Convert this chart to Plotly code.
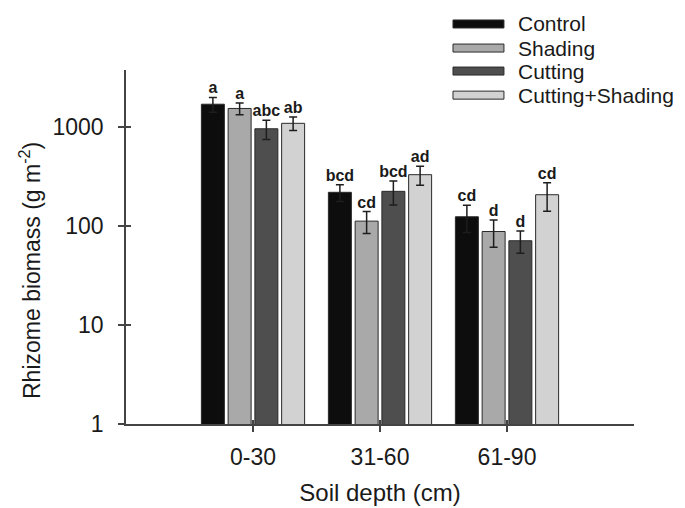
import plotly.graph_objects as go

depths = ["0-30", "31-60", "61-90"]
series = ["Control", "Shading", "Cutting", "Cutting+Shading"]
colors = ["#0d0d0d", "#a9a9a9", "#4e4e4e", "#d2d2d2"]

control = [1700, 219, 124]
shading = [1540, 112, 88]
cutting = [960, 224, 71]
cut_shade = [1090, 330, 207]

control_err = [290, 42, 38]
shading_err = [210, 28, 27]
cutting_err = [210, 61, 18]
cut_shade_err = [170, 72, 66]

control_lbl = ["a", "bcd", "cd"]
shading_lbl = ["a", "cd", "d"]
cutting_lbl = ["abc", "bcd", "d"]
cut_shade_lbl = ["ab", "ad", "cd"]

values = [control, shading, cutting, cut_shade]
errors = [control_err, shading_err, cutting_err, cut_shade_err]
labels = [control_lbl, shading_lbl, cutting_lbl, cut_shade_lbl]

FONT = "Liberation Sans, Arial, sans-serif"
TXT = "#1a1a1a"
slot = 0.2106
bw = 0.181

fig = go.Figure()
for i, name in enumerate(series):
    xs = [g + (i - 1.5) * slot for g in range(len(depths))]
    fig.add_trace(go.Bar(
        x=xs, y=values[i], width=bw, name=name,
        marker=dict(color=colors[i], line=dict(color="#2a2a2a", width=1)),
        error_y=dict(type="data", array=errors[i], visible=True,
                     color="#1e1e1e", thickness=1.5, width=4),
        showlegend=False,
    ))
    fig.add_trace(go.Scatter(
        x=xs, y=[v + e for v, e in zip(values[i], errors[i])],
        mode="text", text=labels[i], textposition="top center",
        textfont=dict(family=FONT, size=16, color=TXT, weight="bold"),
        showlegend=False, hoverinfo="skip",
    ))

# custom legend (wide flat swatches)
sw_x0, sw_x1 = 0.6437, 0.744
row_y = [1.130, 1.062, 0.997, 0.929]
half_h = 0.0113
for i, name in enumerate(series):
    fig.add_shape(type="rect", xref="paper", yref="paper",
                  x0=sw_x0, x1=sw_x1, y0=row_y[i] - half_h, y1=row_y[i] + half_h,
                  fillcolor=colors[i], line=dict(color="#2a2a2a", width=1))
    fig.add_annotation(xref="paper", yref="paper", x=0.768, y=row_y[i],
                       xanchor="left", yanchor="middle", text=name,
                       showarrow=False, font=dict(family=FONT, size=21, color=TXT))

# y-axis title as annotation (centred lower than plot middle, as in the reference)
fig.add_annotation(xref="paper", yref="paper", x=-0.189, y=0.435,
                   xanchor="center", yanchor="middle", textangle=-90,
                   text="Rhizome biomass (g m<sup>-2</sup>)", showarrow=False,
                   font=dict(family=FONT, size=23, color=TXT))

axis_col = "#444444"
fig.update_layout(
    width=685, height=508,
    margin=dict(l=126, r=51, t=70, b=84, autoexpand=False),
    paper_bgcolor="white", plot_bgcolor="white",
    font=dict(family=FONT, color=TXT),
    barmode="overlay",
    xaxis=dict(
        range=[-1, 3], tickvals=list(range(len(depths))), ticktext=depths,
        automargin=False,
        showgrid=False, zeroline=False, showline=True, linecolor=axis_col, linewidth=1.5,
        ticks="outside", ticklen=6, tickwidth=1.5, tickcolor=axis_col,
        ticklabelstandoff=6,
        tickfont=dict(size=23, family=FONT, color=TXT),
        title=dict(text="Soil depth (cm)", font=dict(size=24, family=FONT, color=TXT), standoff=15),
    ),
    yaxis=dict(
        type="log", range=[0, 3.576],
        tickvals=[1, 10, 100, 1000], ticktext=["1", "10", "100", "1000"],
        automargin=False,
        showgrid=False, zeroline=False, showline=True, linecolor=axis_col, linewidth=1.5,
        ticks="outside", ticklen=6, tickwidth=1.5, tickcolor=axis_col,
        ticklabelstandoff=10,
        tickfont=dict(size=23, family=FONT, color=TXT),
    ),
    xaxis2=dict(overlaying="x", anchor="y", range=[-1, 3], tickvals=list(range(len(depths))),
                showticklabels=False, showgrid=False, zeroline=False, showline=False,
                automargin=False,
                ticks="inside", ticklen=4, tickwidth=1.5, tickcolor=axis_col, side="bottom"),
    yaxis2=dict(overlaying="y", anchor="x", type="log", range=[0, 3.576],
                tickvals=[1, 10, 100, 1000], showticklabels=False, showgrid=False,
                zeroline=False, showline=False, automargin=False,
                ticks="inside", ticklen=5, tickwidth=1.5, tickcolor=axis_col, side="left"),
)
# invisible helper trace so the overlay (inner tick) axes are drawn
fig.add_trace(go.Scatter(x=[0], y=[1], xaxis="x2", yaxis="y2", mode="markers",
                         marker=dict(opacity=0), showlegend=False, hoverinfo="skip"))

fig.write_html("out.html",
               config={"displayModeBar": False},
               post_script="document.body.style.margin='0';document.body.style.overflow='hidden';")
